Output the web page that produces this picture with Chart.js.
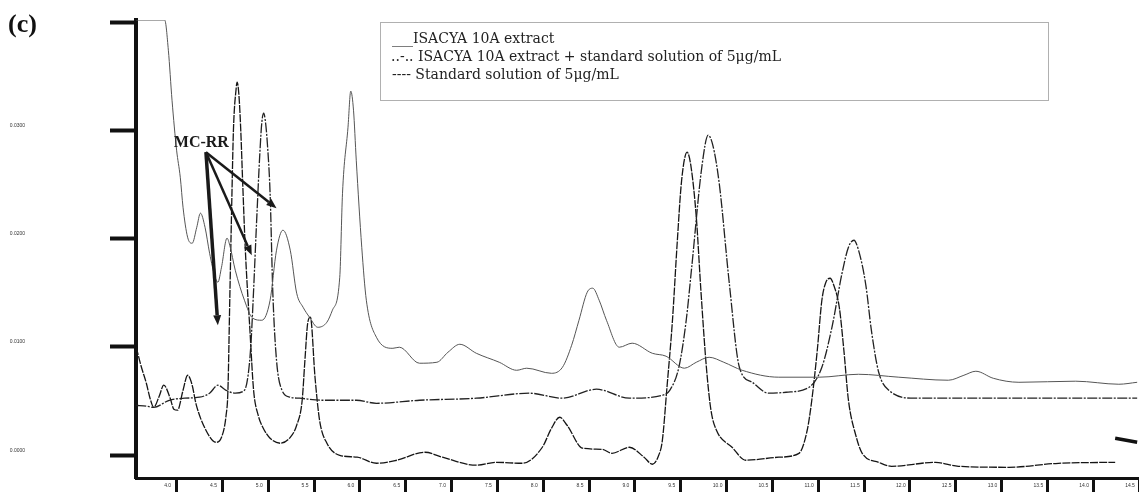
<!DOCTYPE html>
<html>
<head>
<meta charset="utf-8">
<script src="https://cdn.jsdelivr.net/npm/chart.js@4/dist/chart.umd.min.js"></script>
<style>
  html, body { margin: 0; padding: 0; background: #fff; }
  #wrap { width: 1139px; height: 492px; position: relative; }
</style>
</head>
<body>
<div id="wrap"><canvas id="chromatogram"></canvas></div>
<script>
// retention time (min) / absorbance for each run
const extractTime = [3.56, 3.87, 3.91, 3.95, 4.00, 4.04, 4.07, 4.12, 4.17, 4.22, 4.26, 4.31, 4.36, 4.42, 4.45, 4.49, 4.55, 4.58, 4.64, 4.74,
  4.83, 4.93, 5.02, 5.09, 5.16, 5.24, 5.31, 5.38, 5.45, 5.54, 5.64, 5.70, 5.78, 5.81, 5.87, 5.90, 5.93, 5.96, 6.02, 6.07,
  6.18, 6.36, 6.43, 6.65, 6.84, 6.96, 7.09, 7.27, 7.52, 7.71, 7.82, 8.09, 8.21, 8.31, 8.39, 8.48, 8.54, 8.61, 8.69, 8.83,
  8.97, 9.19, 9.34, 9.54, 9.67, 9.81, 9.97, 10.17, 10.57, 11.01, 11.44, 11.88, 12.42, 12.59, 12.72, 12.91, 13.19, 13.81, 14.28, 14.48];
const extractAbs = [0.0402, 0.0402, 0.03741, 0.03279, 0.02818, 0.02568, 0.02291, 0.02014, 0.01958, 0.02106, 0.02236, 0.02106, 0.01866, 0.01644, 0.01598, 0.01737, 0.02005, 0.0194, 0.01709, 0.01432,
  0.01266, 0.01247, 0.01432, 0.01894, 0.02079, 0.01894, 0.01497, 0.01367, 0.01275, 0.01182, 0.01229, 0.0134, 0.01644, 0.0242, 0.0303, 0.03363, 0.03187, 0.02725, 0.01921, 0.01432,
  0.0109, 0.00988, 0.00998, 0.0085, 0.00859, 0.00951, 0.01025, 0.00942, 0.00859, 0.00785, 0.00804, 0.00757, 0.00813, 0.01016, 0.01247, 0.01506, 0.01543, 0.01432, 0.01247, 0.00998,
  0.01035, 0.00942, 0.00915, 0.00804, 0.00859, 0.00905, 0.00859, 0.00785, 0.00721, 0.00721, 0.00748, 0.00721, 0.00693, 0.00739, 0.00776, 0.00711, 0.00674, 0.00684, 0.00656, 0.00674];

const spikedTime = [3.56, 3.67, 3.75, 3.92, 4.09, 4.25, 4.36, 4.45, 4.54, 4.64, 4.74, 4.78, 4.81, 4.84, 4.87, 4.91, 4.93, 4.95, 4.97, 4.99,
  5.02, 5.05, 5.09, 5.15, 5.24, 5.34, 5.59, 5.96, 6.18, 6.65, 7.27, 7.85, 8.21, 8.58, 8.94, 9.30, 9.38, 9.48, 9.56, 9.62,
  9.73, 9.80, 9.85, 9.92, 10.03, 10.14, 10.28, 10.46, 10.65, 10.90, 11.04, 11.15, 11.26, 11.33, 11.39, 11.44, 11.52, 11.58, 11.66, 11.77,
  12.06, 12.97, 14.48];
const spikedAbs = [0.00462, 0.00453, 0.00443, 0.00508, 0.00527, 0.00536, 0.00573, 0.00647, 0.006, 0.00573, 0.006, 0.00739, 0.01016, 0.01524, 0.02106, 0.02818, 0.03076, 0.03159, 0.03076, 0.02882,
  0.0242, 0.01497, 0.00878, 0.006, 0.00536, 0.00527, 0.00508, 0.00508, 0.0048, 0.00508, 0.00527, 0.00573, 0.00527, 0.0061, 0.00527, 0.00554, 0.006, 0.00813, 0.01247, 0.01737,
  0.0266, 0.02956, 0.02864, 0.02513, 0.01589, 0.00813, 0.00674, 0.00573, 0.00582, 0.00628, 0.00813, 0.01182, 0.01681, 0.01921, 0.01986, 0.01894, 0.0157, 0.01155, 0.00767, 0.006,
  0.00527, 0.00527, 0.00527];

const standardTime = [3.56, 3.61, 3.67, 3.71, 3.75, 3.81, 3.86, 3.93, 3.97, 4.01, 4.07, 4.12, 4.17, 4.21, 4.32, 4.43, 4.49, 4.54, 4.56, 4.58,
  4.60, 4.62, 4.65, 4.66, 4.68, 4.70, 4.72, 4.75, 4.80, 4.84, 4.89, 4.94, 5.02, 5.13, 5.24, 5.31, 5.37, 5.40, 5.43, 5.46,
  5.51, 5.56, 5.64, 5.78, 5.97, 6.18, 6.40, 6.71, 6.90, 7.27, 7.49, 7.77, 7.99, 8.09, 8.18, 8.26, 8.43, 8.64, 8.75, 8.94,
  9.10, 9.19, 9.26, 9.30, 9.35, 9.41, 9.46, 9.51, 9.57, 9.61, 9.67, 9.72, 9.78, 9.83, 9.89, 10.06, 10.21, 10.57, 10.79, 10.88,
  10.93, 10.99, 11.04, 11.08, 11.13, 11.17, 11.23, 11.28, 11.33, 11.41, 11.48, 11.66, 11.80, 12.28, 12.53, 13.08, 13.62, 14.24];
const standardAbs = [0.00998, 0.00831, 0.00665, 0.00527, 0.00443, 0.00545, 0.00647, 0.00527, 0.00425, 0.00416, 0.006, 0.00739, 0.00647, 0.0048, 0.00231, 0.0012, 0.00166, 0.0037, 0.006, 0.01432,
  0.02263, 0.03002, 0.0339, 0.03446, 0.03326, 0.03002, 0.0254, 0.01894, 0.01155, 0.006, 0.0037, 0.00259, 0.00157, 0.00111, 0.00166, 0.00277, 0.00508, 0.00878, 0.01219, 0.01275,
  0.00721, 0.00323, 0.00111, 0.0, -0.00018, -0.00074, -0.00046, 0.00028, -0.00018, -0.00092, -0.00065, -0.00074, 0.00074, 0.00249, 0.00351, 0.00277, 0.00065, 0.00055, 0.00018, 0.00074,
  -0.00018, -0.00083, 0.0, 0.00139, 0.00628, 0.01247, 0.0194, 0.0254, 0.02799, 0.02679, 0.02199, 0.01524, 0.00813, 0.00416, 0.00231, 0.00074, -0.00046, -0.00018, 0.00018, 0.00231,
  0.00508, 0.0097, 0.01432, 0.01589, 0.01635, 0.0157, 0.01367, 0.0097, 0.00508, 0.00185, 0.00018, -0.00065, -0.00102, -0.00065, -0.00102, -0.00111, -0.00074, -0.00065];

// short heavy stroke at the right end of the trace
const endMarkTime = [14.24, 14.48];
const endMarkAbs = [0.00157, 0.0012];

const xTicks = [4.0, 4.5, 5.0, 5.5, 6.0, 6.5, 7.0, 7.5, 8.0, 8.5, 9.0, 9.5, 10.0, 10.5, 11.0, 11.5, 12.0, 12.5, 13.0, 13.5, 14.0, 14.5];
const yTicks = [0.0, 0.01, 0.02, 0.03, 0.04];

// legend rows, line keys written as characters
const legendLines = [
  "___ISACYA 10A extract",
  "..-.. ISACYA 10A extract + standard solution of 5μg/mL",
  "---- Standard solution of 5μg/mL"
];

// MC-RR label and the three arrows pointing at its peaks (time, absorbance)
const mcrrLabel = { t: 4.27, a: 0.02882, text: "MC-RR" };
const mcrrFrom = { t: 4.32, a: 0.02799 };
const mcrrTo = [
  { t: 4.45, a: 0.01201, w: 3.5 },
  { t: 4.82, a: 0.01848, w: 2.5 },
  { t: 5.09, a: 0.02282, w: 2.5 }
];

function zip(xs, ys) {
  return xs.map((x, i) => ({ x: x, y: ys[i] }));
}

function drawArrow(ctx, x1, y1, x2, y2, w) {
  const ang = Math.atan2(y2 - y1, x2 - x1);
  const len = 10, half = 4;
  const bx = x2 - len * Math.cos(ang), by = y2 - len * Math.sin(ang);
  ctx.lineWidth = w;
  ctx.beginPath();
  ctx.moveTo(x1, y1);
  ctx.lineTo(bx, by);
  ctx.stroke();
  ctx.beginPath();
  ctx.moveTo(x2, y2);
  ctx.lineTo(bx + half * Math.sin(ang), by - half * Math.cos(ang));
  ctx.lineTo(bx - half * Math.sin(ang), by + half * Math.cos(ang));
  ctx.closePath();
  ctx.fill();
}

const decorations = {
  id: "decorations",
  afterDatasetsDraw(chart) {
    const ctx = chart.ctx;
    const xs = chart.scales.x, ys = chart.scales.y;
    ctx.save();

    // panel tag
    ctx.fillStyle = "#111";
    ctx.font = "bold 26px 'Liberation Serif', serif";
    ctx.textBaseline = "alphabetic";
    ctx.textAlign = "left";
    ctx.fillText("(c)", 8, 32);

    // legend box
    ctx.strokeStyle = "#b0b0b0";
    ctx.lineWidth = 1;
    ctx.strokeRect(380.5, 22.5, 668, 78);
    ctx.font = "14px 'DejaVu Serif', serif";
    ctx.fillStyle = "#222";
    ctx.fillText(legendLines[0], 392, 43);
    ctx.fillText(legendLines[1], 391, 61);
    ctx.fillText(legendLines[2], 392, 79);

    // MC-RR annotation
    const fx = xs.getPixelForValue(mcrrFrom.t), fy = ys.getPixelForValue(mcrrFrom.a);
    ctx.strokeStyle = "#1a1a1a";
    ctx.fillStyle = "#1a1a1a";
    mcrrTo.forEach(p => {
      drawArrow(ctx, fx, fy, xs.getPixelForValue(p.t), ys.getPixelForValue(p.a), p.w);
    });
    ctx.font = "bold 16px 'Liberation Serif', serif";
    ctx.textAlign = "center";
    ctx.textBaseline = "middle";
    ctx.fillText(mcrrLabel.text, xs.getPixelForValue(mcrrLabel.t), ys.getPixelForValue(mcrrLabel.a));
    ctx.restore();
  }
};

const ctx = document.getElementById("chromatogram").getContext("2d");
new Chart(ctx, {
  type: "line",
  data: {
    datasets: [
      {
        label: "ISACYA 10A extract",
        data: zip(extractTime, extractAbs),
        borderColor: "#555",
        borderWidth: 1,
        pointRadius: 0,
        cubicInterpolationMode: "monotone"
      },
      {
        label: "ISACYA 10A extract + standard solution of 5μg/mL",
        data: zip(spikedTime, spikedAbs),
        borderColor: "#222",
        borderWidth: 1.3,
        borderDash: [10, 1.5, 2, 1.5],
        pointRadius: 0,
        cubicInterpolationMode: "monotone"
      },
      {
        label: "Standard solution of 5μg/mL",
        data: zip(standardTime, standardAbs),
        borderColor: "#151515",
        borderWidth: 1.3,
        borderDash: [8, 1.2],
        pointRadius: 0,
        cubicInterpolationMode: "monotone"
      },
      {
        label: "end",
        data: zip(endMarkTime, endMarkAbs),
        borderColor: "#111",
        borderWidth: 3.5,
        pointRadius: 0
      }
    ]
  },
  options: {
    responsive: true,
    maintainAspectRatio: false,
    animation: false,
    layout: { padding: { top: 20, left: 0, right: 0, bottom: 0 } },
    plugins: {
      legend: { display: false },
      tooltip: { enabled: false }
    },
    scales: {
      x: {
        type: "linear",
        min: 3.557,
        max: 14.5,
        afterBuildTicks: scale => { scale.ticks = xTicks.map(v => ({ value: v })); },
        afterFit: scale => { scale.height = 14; scale.paddingLeft = 0; scale.paddingRight = 0; },
        border: { color: "#111", width: 3 },
        grid: { drawOnChartArea: false, drawTicks: true, tickLength: 14, tickWidth: 3, tickColor: "#111" },
        ticks: {
          autoSkip: false,
          maxRotation: 0,
          padding: -9,
          labelOffset: -9,
          color: "#333",
          font: { family: "'Liberation Sans', sans-serif", size: 5 },
          callback: v => v.toFixed(1)
        }
      },
      y: {
        min: -0.0021,
        max: 0.0402,
        afterBuildTicks: scale => { scale.ticks = yTicks.map(v => ({ value: v })); },
        afterFit: scale => { scale.width = 136; scale.paddingTop = 0; scale.paddingBottom = 0; },
        border: { color: "#111", width: 4 },
        grid: { drawOnChartArea: false, drawTicks: true, tickLength: 26, tickWidth: 4, tickColor: "#111" },
        ticks: {
          padding: 85,
          labelOffset: -5,
          color: "#333",
          font: { family: "'Liberation Sans', sans-serif", size: 5 },
          callback: v => (v < 0.035 ? v.toFixed(4) : "")
        }
      }
    }
  },
  plugins: [decorations]
});
</script>
</body>
</html>
